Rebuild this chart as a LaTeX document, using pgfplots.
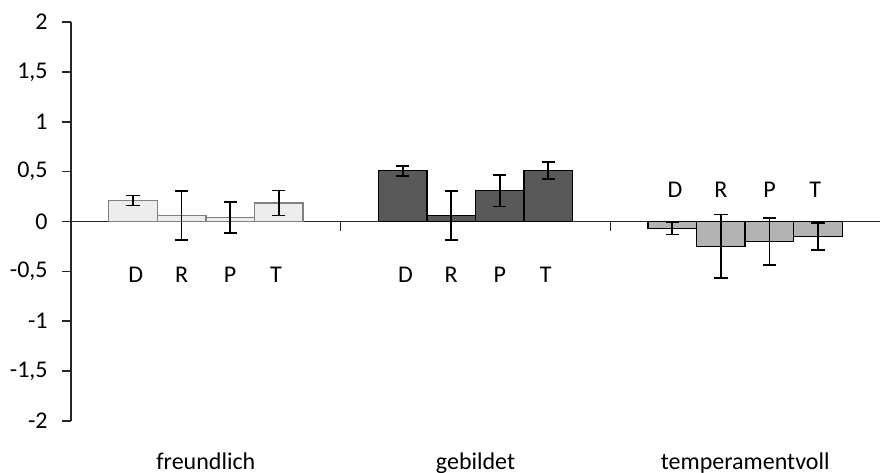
\documentclass[border=0pt]{standalone}
\usepackage{fontspec}
\setmainfont{Carlito}
\usepackage{pgfplots}
\pgfplotsset{compat=1.18}
\definecolor{frfill}{HTML}{EDEDED}
\definecolor{fredge}{HTML}{808080}
\definecolor{gbfill}{HTML}{595959}
\definecolor{tpfill}{HTML}{B3B3B3}
\begin{document}
\fontsize{12}{14}\selectfont
\begin{tikzpicture}
\begin{axis}[
    scale only axis,
    width=404.5pt, height=199.5pt,
    xmin=-0.5, xmax=2.5,
    ymin=-2, ymax=2,
    axis y line=left,
    axis x line=middle,
    axis line style={-, black!85, line width=0.8pt},
    xtick={0.5,1.5},
    xticklabels={},
    ytick={-2,-1.5,...,2},
    tick align=outside,
    major tick length=4.5pt,
    tick style={black!85, line width=0.8pt},
    /pgf/number format/use comma,
    /pgf/number format/assume math mode=true,
    yticklabel style={font=\fontsize{12}{14}\selectfont, xshift=-3pt},
    bar width=0.18,
    clip=false,
    error bars/error bar style={black, line width=0.9pt},
    error bars/error mark options={rotate=90, black, mark size=3.3pt, line width=0.9pt},
]
% freundlich
\addplot[ybar, bar shift=0pt, fill=frfill, draw=fredge, line width=0.7pt,
    error bars/.cd, y dir=both, y explicit]
    coordinates {
    (-0.27,0.21) +- (0,0.05)
    (-0.09,0.06) +- (0,0.245)
    (0.09,0.04) +- (0,0.155)
    (0.27,0.185) +- (0,0.125)
    };
% gebildet
\addplot[ybar, bar shift=0pt, fill=gbfill, draw=black, line width=0.7pt,
    error bars/.cd, y dir=both, y explicit]
    coordinates {
    (0.73,0.51) +- (0,0.05)
    (0.91,0.06) +- (0,0.245)
    (1.09,0.31) +- (0,0.16)
    (1.27,0.51) +- (0,0.085)
    };
% temperamentvoll
\addplot[ybar, bar shift=0pt, fill=tpfill, draw=black, line width=0.7pt,
    error bars/.cd, y dir=both, y explicit]
    coordinates {
    (1.73,-0.07) +- (0,0.06)
    (1.91,-0.25) +- (0,0.32)
    (2.09,-0.20) +- (0,0.235)
    (2.27,-0.15) +- (0,0.135)
    };
% letters
\node at (axis cs:-0.26,-0.53) {D};
\node at (axis cs:-0.09,-0.53) {R};
\node at (axis cs:0.09,-0.53) {P};
\node at (axis cs:0.26,-0.53) {T};
\node at (axis cs:0.74,-0.53) {D};
\node at (axis cs:0.91,-0.53) {R};
\node at (axis cs:1.09,-0.53) {P};
\node at (axis cs:1.26,-0.53) {T};
\node at (axis cs:1.74,0.32) {D};
\node at (axis cs:1.91,0.32) {R};
\node at (axis cs:2.09,0.32) {P};
\node at (axis cs:2.26,0.32) {T};
% category names
\node[anchor=base, yshift=-24pt] at (axis cs:0,-2) {freundlich};
\node[anchor=base, yshift=-24pt] at (axis cs:1,-2) {gebildet};
\node[anchor=base, yshift=-24pt] at (axis cs:2,-2) {temperamentvoll};
\coordinate (bl) at (rel axis cs:0,0);
\coordinate (tr) at (rel axis cs:1,1);
\end{axis}
\pgfresetboundingbox
\path ([xshift=-35.5pt,yshift=-25.5pt]bl) rectangle ([yshift=11pt]tr);
\end{tikzpicture}
\end{document}
